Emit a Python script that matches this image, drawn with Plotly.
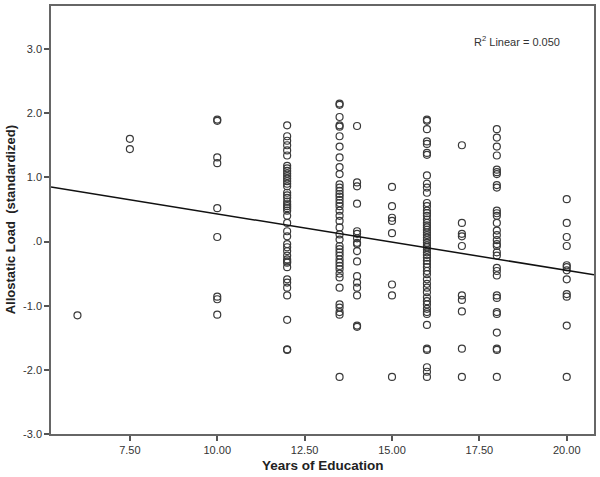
import numpy as np
import plotly.graph_objects as go

# years of education -> allostatic load values
years = [6.0, 7.5, 10.0, 12.0, 13.5, 14.0, 15.0, 16.0, 17.0, 18.0, 20.0]
load = [
    [-1.15],
    [1.60, 1.44],
    [1.90, 1.88, 1.31, 1.22, 0.52, 0.07, -0.86, -0.90, -1.14],
    [1.81, 1.64, 1.57, 1.50, 1.42, 1.34, 1.18, 1.14, 1.10, 1.06, 1.02, 0.98,
     0.94, 0.90, 0.86, 0.76, 0.72, 0.68, 0.62, 0.58, 0.55, 0.52, 0.48, 0.40,
     0.29, 0.16, 0.08, -0.04, -0.09, -0.15, -0.22, -0.28, -0.31, -0.33,
     -0.40, -0.59, -0.64, -0.72, -0.84, -1.22, -1.68, -1.69],
    [2.15, 2.13, 1.94, 1.81, 1.79, 1.64, 1.48, 1.31, 1.16, 1.05, 0.89, 0.84,
     0.79, 0.74, 0.70, 0.65, 0.60, 0.55, 0.48, 0.40, 0.32, 0.22, 0.11, 0.03,
     -0.07, -0.12, -0.17, -0.22, -0.28, -0.33, -0.38, -0.43, -0.50, -0.56,
     -0.72, -0.98, -1.03, -1.10, -1.14, -2.11],
    [1.80, 0.92, 0.86, 0.59, 0.16, 0.12, 0.05, -0.02, -0.04, -0.15, -0.31,
     -0.54, -0.64, -0.72, -0.84, -1.31, -1.33],
    [0.85, 0.55, 0.37, 0.32, 0.13, -0.67, -0.84, -2.11],
    [1.90, 1.88, 1.75, 1.56, 1.52, 1.38, 1.35, 1.03, 0.90, 0.84, 0.76, 0.60,
     0.55, 0.48, 0.44, 0.40, 0.34, 0.29, 0.25, 0.22, 0.18, 0.14, 0.10, 0.06,
     0.02, -0.02, -0.06, -0.09, -0.13, -0.17, -0.21, -0.25, -0.30, -0.35,
     -0.40, -0.46, -0.51, -0.59, -0.66, -0.72, -0.79, -0.87, -0.93, -0.98,
     -1.05, -1.10, -1.13, -1.30, -1.67, -1.69, -1.96, -2.03, -2.11],
    [1.50, 0.29, 0.12, 0.08, -0.07, -0.84, -0.91, -1.09, -1.67, -2.11],
    [1.75, 1.62, 1.48, 1.34, 1.12, 1.08, 1.05, 0.88, 0.84, 0.48, 0.44, 0.40,
     0.29, 0.17, 0.10, 0.02, -0.04, -0.07, -0.17, -0.22, -0.41, -0.46,
     -0.53, -0.84, -0.88, -1.10, -1.13, -1.42, -1.67, -1.69, -2.11],
    [0.66, 0.29, 0.07, -0.07, -0.37, -0.40, -0.45, -0.59, -0.82, -0.86,
     -1.31, -2.11],
]

# fit line as drawn (R2 linear = 0.050)
fit_intercept = 1.31
fit_slope = -0.088

x_ticks = [7.5, 10.0, 12.5, 15.0, 17.5, 20.0]
x_tick_labels = ["7.50", "10.00", "12.50", "15.00", "17.50", "20.00"]
y_ticks = [3, 2, 1, 0, -1, -2, -3]
y_tick_labels = ["3.0", "2.0", "1.0", ".0", "-1.0", "-2.0", "-3.0"]

x_range = [5.243, 20.78]
y_range = [-3.0, 3.67]

xs = []
ys = []
for yr, vals in zip(years, load):
    xs += [yr] * len(vals)
    ys += vals

fig = go.Figure()
fig.add_trace(go.Scatter(
    x=xs, y=ys, mode="markers",
    marker=dict(symbol="circle-open", size=7, color="#3a3a3a",
                line=dict(width=1.2, color="#3a3a3a")),
    showlegend=False))

line_x = np.array(x_range)
fig.add_trace(go.Scatter(
    x=line_x, y=fit_intercept + fit_slope * line_x, mode="lines",
    line=dict(color="#111111", width=1.5), showlegend=False))

axis_style = dict(showgrid=False, zeroline=False, showline=True, mirror=True,
                  linecolor="#666666", linewidth=1.5, ticks="outside",
                  ticklen=5, tickcolor="#555555", tickwidth=1.5,
                  tickfont=dict(family="Liberation Sans, Arial", size=11,
                                color="#333333"))

fig.update_xaxes(range=x_range, tickvals=x_ticks, ticktext=x_tick_labels,
                 **axis_style)
fig.update_yaxes(range=y_range, tickvals=y_ticks, ticktext=y_tick_labels,
                 **axis_style)

fig.update_layout(
    width=600, height=477,
    margin=dict(l=51, r=5, t=4, b=43),
    paper_bgcolor="white", plot_bgcolor="white",
    font=dict(family="Liberation Sans, Arial", color="#222222"),
    annotations=[
        dict(text="R<sup>2</sup> Linear = 0.050", xref="paper", yref="paper",
             x=0.776, y=0.919, xanchor="left", yanchor="middle",
             showarrow=False, font=dict(size=11, color="#333333")),
        dict(text="<b>Years of Education</b>", xref="paper", yref="paper",
             x=0.5, y=-0.074, xanchor="center", yanchor="middle",
             showarrow=False, font=dict(size=13.5, color="#222222")),
        dict(text="<b>Allostatic Load  (standardized)</b>", xref="paper",
             yref="paper", x=-0.075, y=0.5, xanchor="center",
             yanchor="middle", textangle=-90, showarrow=False,
             font=dict(size=13, color="#222222")),
    ],
)

# drop the page's default body margin so the chart sits at the window corner
fig.write_html("out.html", config={"displayModeBar": False},
               post_script="document.body.style.margin='0';")
